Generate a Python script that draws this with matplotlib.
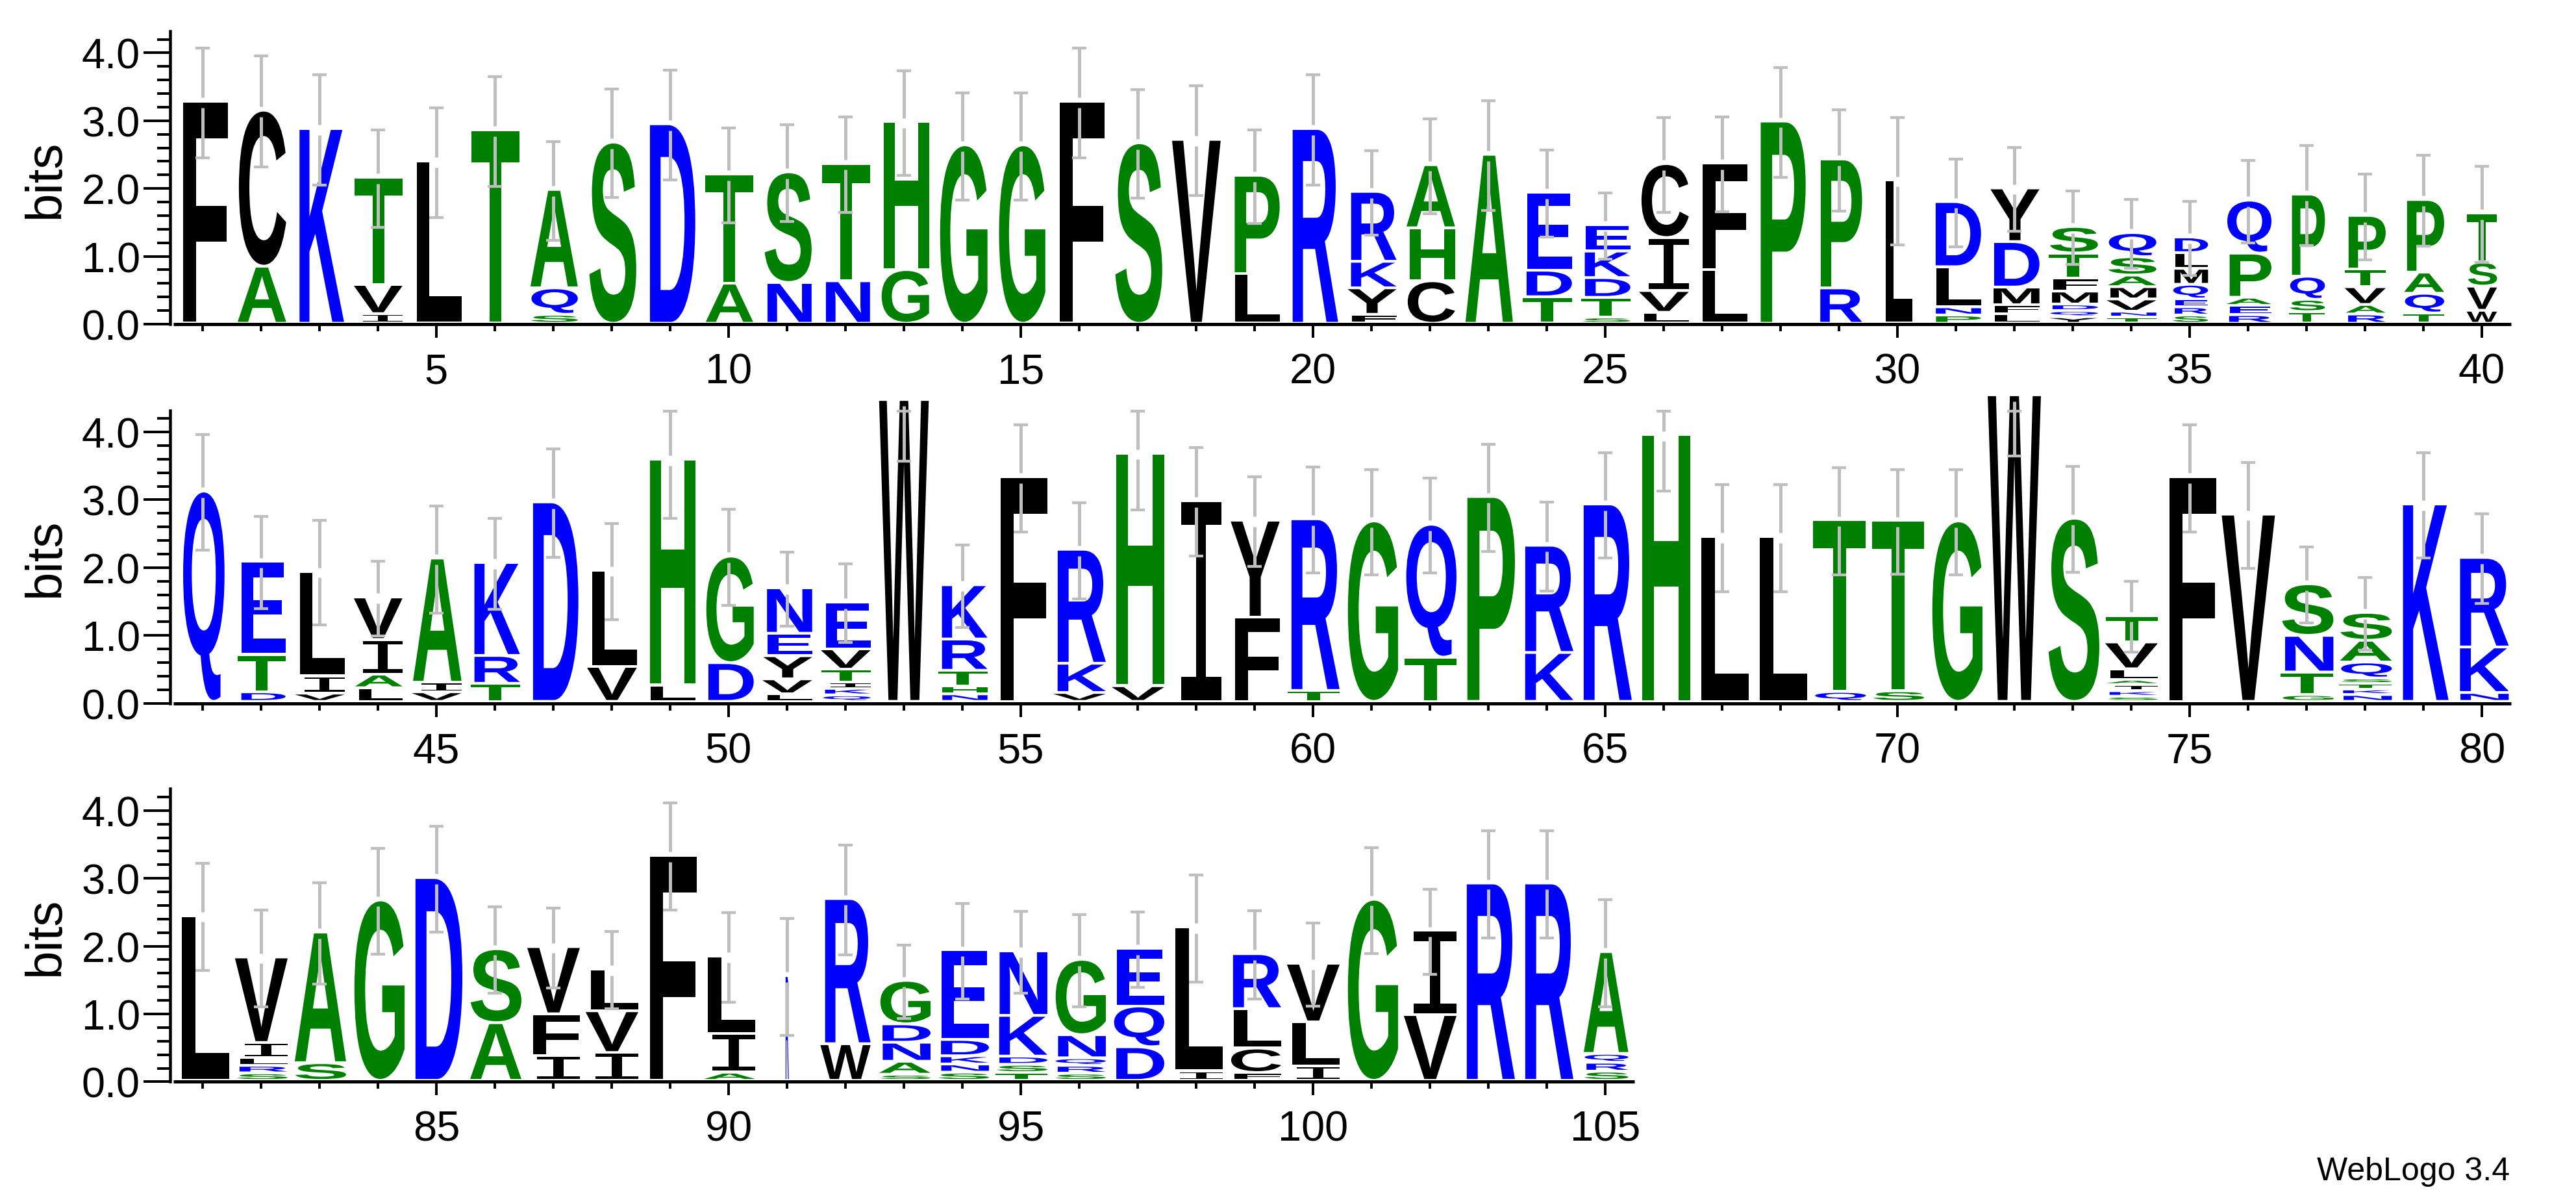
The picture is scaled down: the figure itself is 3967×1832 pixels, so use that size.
import matplotlib
matplotlib.use("Agg")
import matplotlib.pyplot as plt
from matplotlib.textpath import TextPath
from matplotlib.font_manager import FontProperties
from matplotlib.patches import PathPatch
from matplotlib.path import Path
import numpy as np

# ---------- data: letters bottom-to-top, glyph heights (bits), error (bits), stack width (fraction)
row1_letters = ["F","AC","K","IVT","L","T","SQA","S","D","AT","NS","NT","GH","G","G","F","S","V","LP","R",
                "FYKR","CHA","A","TDE","STDKE","LVIC","LF","P","RP","L","PNLD","LFMDY","YQDMFTS","TNVMASQ",
                "SREQMLD","REAPQ","TSQP","RAVTP","TQAP","WVST"]
row1_heights = [[3.23],[.80,2.26],[2.83],[.10,.39,1.54],[2.35],[2.81],[.09,.35,1.41],[2.63],[2.90],[.55,1.57],
                [.56,1.59],[.585,1.69],[.75,2.14],[2.59],[2.59],[3.23],[2.62],[2.67],[.69,1.41],[2.83],
                [.09,.35,.35,.99],[.585,.74,.89],[2.45],[.35,.35,1.11],[.05,.25,.25,.35,.35],[.12,.28,.74,1.05],
                [.75,1.53],[2.94],[.48,1.86],[2.07],[.08,.08,.55,.92],[.10,.09,.22,.63,.75],
                [.055,.05,.055,.15,.15,.33,.35],[.05,.045,.14,.14,.13,.23,.315],[.08,.08,.075,.175,.195,.19,.19],
                [.085,.095,.08,.61,.74],[.13,.14,.30,1.17],[.095,.10,.22,.22,.75],[.11,.25,.27,1.03],[.15,.315,.315,.68]]
row1_err = [.81,.82,.81,.72,.81,.81,.73,.80,.81,.70,.715,.705,.77,.79,.79,.81,.80,.81,.69,.81,
            .62,.70,.81,.64,.49,.70,.70,.81,.745,.94,.65,.62,.54,.505,.55,.61,.74,.63,.67,.71]
row1_width = [.86,.86,.84,.84,.86,.84,.84,.84,.86,.84,.84,.84,.86,.86,.84,.86,.84,.84,.86,.86,
              .86,.86,.84,.86,.86,.86,.86,.86,.79,.51,.86,.86,.86,.86,.63,.80,.63,.71,.71,.52]

row2_letters = ["Q","DTE","VIL","LAIV","VIA","TRK","D","VL","LH","DG","LVYEN","QKITVE","W","NHTRK","F","VKR","VH","I",
                "FY","TR","G","TQ","P","KR","R","H","L","L","QT","ST","G","W","S","SKIALVT","F","V","GTNS","NKTSQAS","K","NKR"]
row2_heights = [[3.06],[.10,.51,1.33],[.08,.215,1.50],[.16,.16,.47,.585],[.10,.10,1.79],[.225,.37,1.33],[2.90],[.475,1.38],
                [.20,3.29],[.53,1.53],[.07,.18,.30,.29,.63],[.055,.055,.05,.15,.26,.65],[4.41],[.07,.075,.19,.42,.76],
                [3.27],[.09,.39,1.64],[.19,3.39],[2.92],[1.20,1.39],[.12,2.49],[2.62],[.61,1.92],[2.98],[.68,1.54],[2.87],
                [3.89],[2.39],[2.39],[.105,2.49],[.115,2.47],[2.62],[4.48],[2.66],[.035,.04,.05,.035,.115,.355,.35],
                [3.27],[2.72],[.06,.29,.50,.72],[.06,.04,.04,.04,.195,.28,.37],[2.87],[.09,.63,1.28]]
row2_err = [.85,.68,.77,.55,.79,.67,.80,.71,.85,.71,.55,.58,.89,.61,.79,.71,.82,.80,.66,.78,
            .78,.70,.79,.66,.78,.81,.79,.79,.79,.77,.78,.88,.78,.52,.79,.78,.56,.54,.78,.66]
row2_width = [.75,.84,.86,.84,.86,.86,.86,.86,.86,.86,.86,.86,.85,.86,.90,.91,.91,.86,.86,.91,
              .91,.91,.91,.91,.91,.91,.91,.92,.92,.91,.91,.91,.91,.91,.90,.92,.92,.92,.86,.92]

row3_letters = ["L","SRLIV","SA","G","D","AS","IFV","IVL","F","AIL","R","WR","SANDG","SNKDE","TSDKN","SRQNG","DQE",
                "IL","FCLR","ILV","G","VI","R","R","SRQA"]
row3_heights = [[2.39],[.07,.07,.075,.18,1.22],[.22,1.885],[2.62],[2.95],[.81,1.05],[.325,.575,.95],[.37,.575,.575],
                [3.28],[.08,.53,1.10],[1.505],[.50,2.10],[.05,.15,.24,.23,.60],[.08,.08,.08,.20,1.28],
                [.075,.08,.08,.56,.91],[.065,.075,.07,.30,1.07],[.455,.56,.81],[.10,2.08],[.075,.32,.54,.77],
                [.17,.61,.825],[2.63],[.93,1.20],[2.87],[2.87],[.095,.09,.09,1.46]]
row3_err = [.79,.71,.75,.78,.78,.64,.59,.57,.79,.66,.86,.81,.54,.70,.60,.68,.56,.79,.65,.61,.78,.63,.79,.79,.79]
row3_width = [.91,.91,.91,.91,.89,.91,.91,.91,.90,.91,.06,.86,.91,.91,.91,.91,.91,.91,.91,.91,.91,.91,.91,.91,.79]

color_groups = {"black": "YVMCLFIW", "#008000": "SGHTAP", "#0000FF": "RKDENQ"}
y_major = [0, 1, 2, 3, 4]
y_minor = [0.2 * k for k in range(22)]

# ---------- layout
W, H, DPI = 3967, 1833, 100
px = 72 / DPI
GAP = 0.041
BAR_BREAK = 0.075
CAP_LIMIT = 4.31
YTOP = 4.32
LEFT = 267
PER_POS = 90
BITPX = 104.4
rows = [
    dict(first=1,  letters=row1_letters, heights=row1_heights, err=row1_err, width=row1_width, baseline=500.0, base=.034),
    dict(first=41, letters=row2_letters, heights=row2_heights, err=row2_err, width=row2_width, baseline=1083.6, base=.048),
    dict(first=81, letters=row3_letters, heights=row3_heights, err=row3_err, width=row3_width, baseline=1666.4, base=.041),
]

plt.rcParams["font.family"] = "Liberation Sans"
bold = FontProperties(family="Liberation Sans", weight="bold")
slab = FontProperties(family="Liberation Mono", weight="normal")

_cache = {}
def glyph(ch):
    if ch not in _cache:
        tp = TextPath((0, 0), ch, size=1, prop=slab if ch == "I" else bold)
        v = np.array(tp.vertices, dtype=float)
        lo, hi = v.min(axis=0), v.max(axis=0)
        _cache[ch] = ((v - lo) / (hi - lo), np.array(tp.codes))
    return _cache[ch]

def colour(ch):
    for c, s in color_groups.items():
        if ch in s:
            return c
    return "black"

fig = plt.figure(figsize=(W / DPI, H / DPI), dpi=DPI, facecolor="white")

for r in rows:
    n = len(r["letters"])
    ax = fig.add_axes([LEFT / W, 1 - r["baseline"] / H, n * PER_POS / W, YTOP * BITPX / H])
    first = r["first"]
    ax.set_xlim(first - .5, first + n - .5)
    ax.set_ylim(0, YTOP)
    ax.patch.set_visible(False)
    for s in ("top", "right"):
        ax.spines[s].set_visible(False)
    ax.spines["left"].set_position(("outward", 5 * px))
    ax.spines["left"].set_linewidth(4.5 * px)
    ax.spines["bottom"].set_linewidth(5 * px)
    ax.spines["bottom"].set_capstyle("butt")

    positions = np.arange(first, first + n)
    ax.set_xticks([p for p in positions if p % 5 == 0])
    ax.set_xticks(positions, minor=True)
    ax.set_yticks(y_major)
    ax.set_yticks(y_minor, minor=True)
    ax.set_yticklabels([f"{v:.1f}" for v in y_major])
    ax.tick_params(axis="y", which="major", length=41 * px, width=4 * px, labelsize=65 * px, pad=5 * px)
    ax.tick_params(axis="y", which="minor", length=20 * px, width=4 * px)
    ax.tick_params(axis="x", which="major", length=21.5 * px, width=4 * px, labelsize=65 * px, pad=22 * px)
    ax.tick_params(axis="x", which="minor", length=11.5 * px, width=4 * px)

    for p, ls, hs, e, wd in zip(positions, r["letters"], r["heights"], r["err"], r["width"]):
        y = r["base"]
        top = y
        for ch, h in zip(ls, hs):
            v, codes = glyph(ch)
            xy = np.column_stack([p - wd / 2 + v[:, 0] * wd, y + v[:, 1] * h])
            ax.add_patch(PathPatch(Path(xy, codes), facecolor=colour(ch), edgecolor="none", lw=0,
                                   clip_on=False, zorder=3))
            top = y + h
            y = top + GAP
        # error bar: broken around the top of the stack, capped at the axis limit
        lo = top - e
        hi = min(top + e, CAP_LIMIT)
        gray = "#BEBEBE"
        ax.plot([p, p], [lo, top - BAR_BREAK], color=gray, lw=5 * px, solid_capstyle="butt", zorder=4, clip_on=False)
        if top + BAR_BREAK < hi:
            ax.plot([p, p], [top + BAR_BREAK, hi], color=gray, lw=5 * px, solid_capstyle="butt", zorder=4, clip_on=False)
        for yc in (lo, hi):
            ax.plot([p - .117, p + .117], [yc, yc], color=gray, lw=4.3 * px, solid_capstyle="butt", zorder=4, clip_on=False)

    fig.text(70 / W, 1 - (r["baseline"] - 225) / H, "bits", rotation=90, ha="center", va="center",
             fontsize=78 * px)

fig.text(3865 / W, 1 - 1817 / H, "WebLogo 3.4", ha="right", va="baseline", fontsize=50 * px)
fig.savefig("out.png", dpi=DPI, facecolor="white")
